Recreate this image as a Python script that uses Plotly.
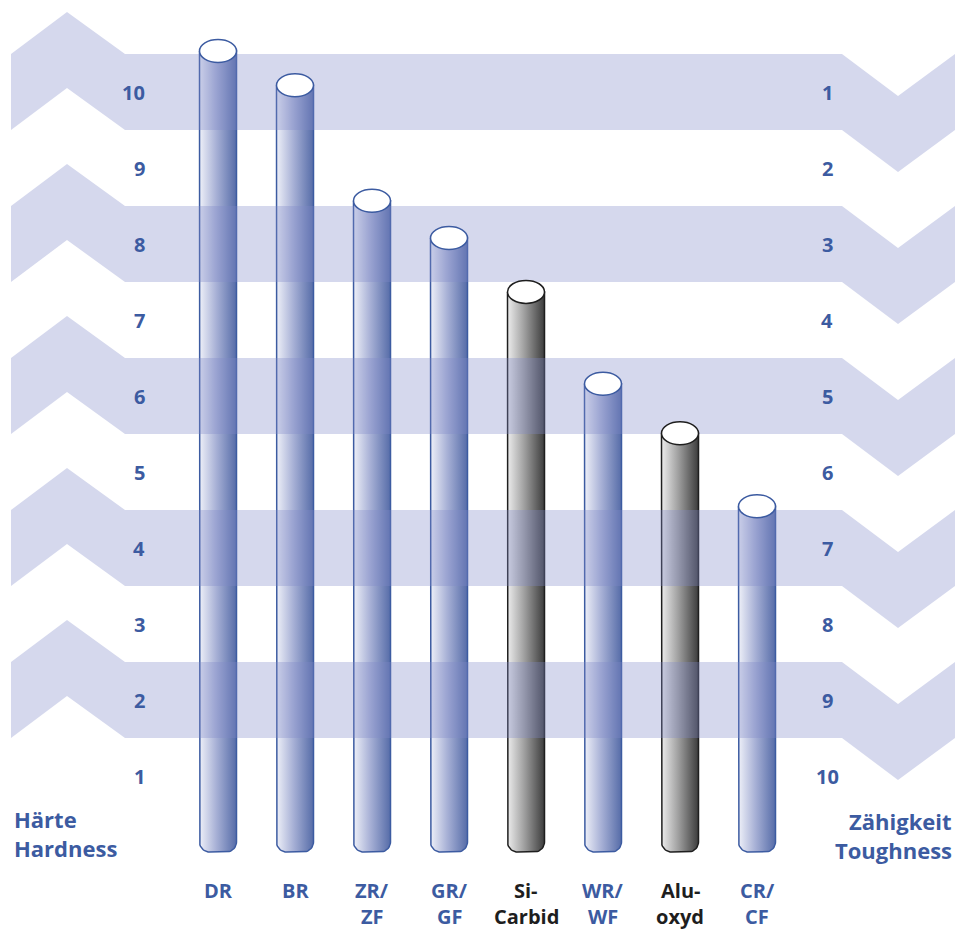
import numpy as np
import plotly.graph_objects as go

# ---------------- data ----------------
categories = ["DR", "BR", "ZR/<br>ZF", "GR/<br>GF", "Si-<br>Carbid", "WR/<br>WF", "Alu-<br>oxyd", "CR/<br>CF"]
hardness = [10.54, 10.09, 8.57, 8.08, 7.37, 6.16, 5.51, 4.55]
material = ["blue", "blue", "blue", "blue", "gray", "blue", "gray", "blue"]
hardness_ticks = [1, 2, 3, 4, 5, 6, 7, 8, 9, 10]
toughness_ticks = [10, 9, 8, 7, 6, 5, 4, 3, 2, 1]
band_levels = [2, 4, 6, 8, 10]

# ---------------- layout constants ----------------
W, H = 969, 932
X0_PX, STEP_PX = 218, 77          # pixel of first bar centre, bar spacing
Y0_PX, UNIT_PX = 852, 76          # pixel of value 0, pixels per unit
xr = [(0 - X0_PX) / STEP_PX, (W - X0_PX) / STEP_PX]
yr = [(Y0_PX - H) / UNIT_PX, Y0_PX / UNIT_PX]

def px_x(p):
    return (p - X0_PX) / STEP_PX

def px_y(p):
    return (Y0_PX - p) / UNIT_PX

BLUE = "#3c5ba1"
DARK = "#1e1e1e"
BAND = "rgba(128,138,200,0.33)"
FONT = "Open Sans"

half_w = 18.5 / STEP_PX
r_x = 10 / STEP_PX
r_y = 10 / UNIT_PX
cap_ry = 11.5 / UNIT_PX

fig = go.Figure()

styles = {
    "blue": dict(line=BLUE, scale=[[0, "#eef0f8"], [0.45, "#a8b1d6"], [1, "#566ca8"]], text=BLUE),
    "gray": dict(line=DARK, scale=[[0, "#ececec"], [0.45, "#a0a0a0"], [1, "#3c3c3c"]], text=DARK),
}

for i, (cat, val, mat) in enumerate(zip(categories, hardness, material)):
    st = styles[mat]
    xl, xrr = i - half_w, i + half_w
    t1 = np.linspace(np.pi, 1.5 * np.pi, 12)
    t2 = np.linspace(1.5 * np.pi, 2 * np.pi, 12)
    xs = [xl] + list(xl + r_x + r_x * np.cos(t1)) + list(xrr - r_x + r_x * np.cos(t2)) + [xrr, xl]
    ys = [val] + list(r_y + r_y * np.sin(t1)) + list(r_y + r_y * np.sin(t2)) + [val, val]
    fig.add_trace(go.Scatter(
        x=xs, y=ys, mode="lines", fill="toself",
        fillgradient=dict(type="horizontal", colorscale=st["scale"]),
        line=dict(color=st["line"], width=1.5),
        hoverinfo="skip", showlegend=False,
    ))

shapes = []
lx = [px_x(11), px_x(67), px_x(125)]
rx = [px_x(842), px_x(898), px_x(955)]
dep = 42 / UNIT_PX
for L in band_levels:
    top, bot = L + 0.5, L - 0.5
    pts = [
        (lx[0], top), (lx[1], top + dep), (lx[2], top), (rx[0], top), (rx[1], top - dep), (rx[2], top),
        (rx[2], bot), (rx[1], bot - dep), (rx[0], bot), (lx[2], bot), (lx[1], bot + dep), (lx[0], bot),
    ]
    path = "M " + " L ".join(f"{x:.4f},{y:.4f}" for x, y in pts) + " Z"
    shapes.append(dict(type="path", path=path, xref="x", yref="y", fillcolor=BAND,
                       line=dict(width=0), layer="above"))

for i, (val, mat) in enumerate(zip(hardness, material)):
    shapes.append(dict(type="circle", xref="x", yref="y",
                       x0=i - half_w, x1=i + half_w, y0=val - cap_ry, y1=val + cap_ry,
                       fillcolor="white", line=dict(color=styles[mat]["line"], width=1.5),
                       layer="above"))

annotations = []
for h in hardness_ticks:
    annotations.append(dict(x=px_x(147), y=h, xref="x", yref="y", text=str(h), showarrow=False,
                             xanchor="right", yanchor="middle",
                             font=dict(family=FONT, size=20, color=BLUE, weight="bold")))
for k, t in enumerate(toughness_ticks):
    annotations.append(dict(x=px_x(827), y=hardness_ticks[k], xref="x", yref="y", text=str(t),
                             showarrow=False, xanchor="center", yanchor="middle",
                             font=dict(family=FONT, size=20, color=BLUE, weight="bold")))

line_gap = 26 / UNIT_PX
for i, (cat, mat) in enumerate(zip(categories, material)):
    for j, part in enumerate(cat.split("<br>")):
        annotations.append(dict(x=i, y=px_y(890) - j * line_gap, xref="x", yref="y", text=part,
                                 showarrow=False, xanchor="center", yanchor="middle",
                                 font=dict(family=FONT, size=20, color=styles[mat]["text"], weight="bold")))

title_gap = 29 / UNIT_PX
for j, part in enumerate(["Härte", "Hardness"]):
    annotations.append(dict(x=px_x(12), y=px_y(819) - j * title_gap, xref="x", yref="y", text=part,
                             showarrow=False, xanchor="left", yanchor="middle",
                             font=dict(family=FONT, size=22, color=BLUE, weight="bold")))
for j, part in enumerate(["Zähigkeit", "Toughness"]):
    annotations.append(dict(x=px_x(954), y=px_y(821) - j * title_gap, xref="x", yref="y", text=part,
                             showarrow=False, xanchor="right", yanchor="middle",
                             font=dict(family=FONT, size=22, color=BLUE, weight="bold")))

fig.update_layout(
    width=W, height=H,
    margin=dict(l=0, r=0, t=0, b=0),
    paper_bgcolor="white", plot_bgcolor="white",
    xaxis=dict(range=xr, visible=False, fixedrange=True),
    yaxis=dict(range=yr, visible=False, fixedrange=True),
    shapes=shapes, annotations=annotations,
    showlegend=False,
)

fig.write_html("out.html")
